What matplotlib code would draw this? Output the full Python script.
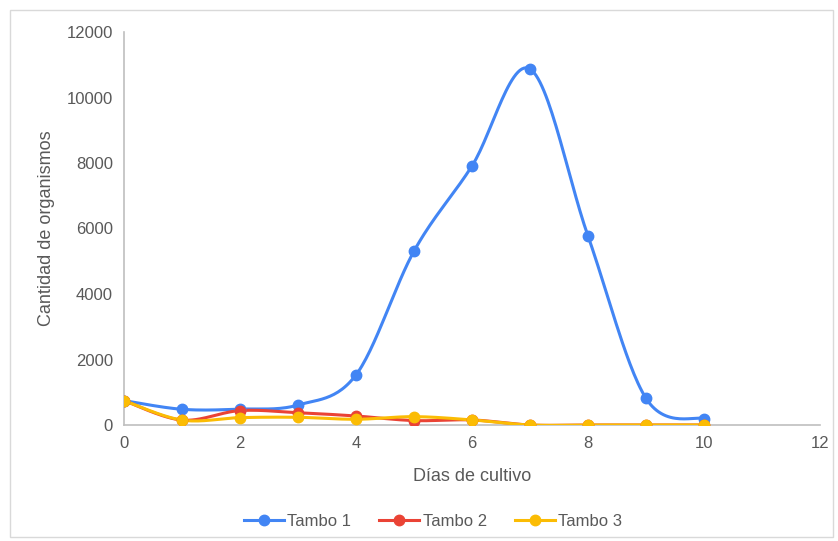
import numpy as np
import matplotlib
matplotlib.use("Agg")
from matplotlib import pyplot as plt
from matplotlib.patches import Rectangle

plt.rcParams['font.family'] = ['Liberation Sans', 'DejaVu Sans']

dias = [0, 1, 2, 3, 4, 5, 6, 7, 8, 9, 10]
tambo1 = [745, 480, 485, 610, 1530, 5310, 7910, 10870, 5770, 815, 190]
tambo2 = [745, 150, 440, 375, 275, 135, 155, 0, 0, 0, 0]
tambo3 = [745, 150, 225, 235, 175, 255, 155, 0, 0, 0, 0]
series = [("Tambo 1", tambo1, "#4285F4"),
          ("Tambo 2", tambo2, "#EA4335"),
          ("Tambo 3", tambo3, "#FBBC04")]


def smooth(x, y, n=30):
    # catmull-rom curve through the points, like the spreadsheet "smooth line"
    x = np.asarray(x, float)
    y = np.asarray(y, float)
    px = np.concatenate([[x[0]], x, [x[-1]]])
    py = np.concatenate([[y[0]], y, [y[-1]]])
    xs, ys = [], []
    t = np.linspace(0, 1, n)
    for i in range(1, len(px) - 2):
        for p, out in ((px, xs), (py, ys)):
            p0, p1, p2, p3 = p[i - 1], p[i], p[i + 1], p[i + 2]
            out.extend(0.5 * (2 * p1 + (-p0 + p2) * t
                              + (2 * p0 - 5 * p1 + 4 * p2 - p3) * t ** 2
                              + (-p0 + 3 * p1 - 3 * p2 + p3) * t ** 3))
    return np.array(xs), np.array(ys)


fig = plt.figure(figsize=(8.38, 5.41), dpi=100)
ax = fig.add_axes([124 / 838, 1 - 425 / 541, (820 - 124) / 838, (425 - 32) / 541])

for name, vals, col in series:
    sx, sy = smooth(dias, vals)
    ax.plot(sx, sy, color=col, lw=2.2, zorder=3)
    ax.plot(dias, vals, 'o', color=col, ms=7.5, zorder=4)
    ax.plot([], [], '-o', color=col, lw=2.2, ms=7.5, label=name)

ax.set_xlim(0, 12)
ax.set_ylim(0, 12000)
ax.set_xticks(range(0, 13, 2))
ax.set_yticks(range(0, 12001, 2000))
for s in ['top', 'right']:
    ax.spines[s].set_visible(False)
for s in ['left', 'bottom']:
    ax.spines[s].set_color('#BFBFBF')
    ax.spines[s].set_linewidth(1.2)
ax.tick_params(length=0, labelsize=12, colors='#595959', pad=8)
ax.set_xlabel('Días de cultivo', fontsize=13, color='#595959', labelpad=12)
ax.set_ylabel('Cantidad de organismos', fontsize=13, color='#595959', labelpad=8)
for lbl in ax.get_xticklabels() + ax.get_yticklabels():
    lbl.set_clip_on(False)

fig.legend(loc='center', bbox_to_anchor=(433 / 838, 1 - 521 / 541), ncol=3,
           frameon=False, fontsize=12, labelcolor='#595959', handlelength=2.4,
           handletextpad=0.2, columnspacing=1.7)

fig.patches.append(Rectangle((10 / 838, 4 / 541), 823 / 838, 527 / 541,
                             transform=fig.transFigure, fill=False,
                             edgecolor='#D9D9D9', lw=1))

fig.savefig('out.png', dpi=100)
